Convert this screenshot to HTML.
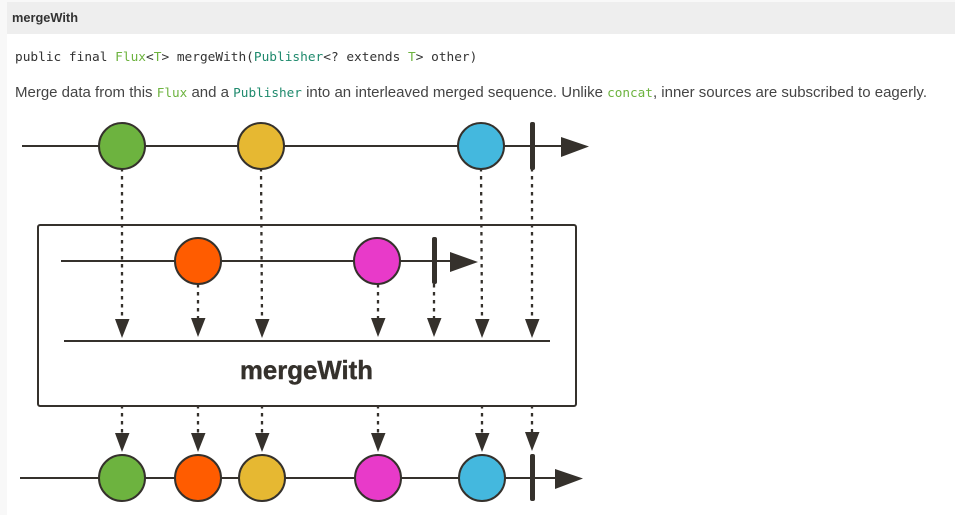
<!DOCTYPE html>
<html><head><meta charset="utf-8"><style>
html,body{margin:0;padding:0;background:#fff;width:955px;height:515px;overflow:hidden}
body{position:relative;font-family:"Liberation Sans",Arial,sans-serif;color:#333}
.side{position:absolute;left:0;top:0;width:7px;height:515px;background:#f8f8f8}
.top{position:absolute;left:0;top:0;width:955px;height:2px;background:#f8f8f8}
.hd{position:absolute;left:7px;top:2px;width:948px;height:32px;background:#eee;font-weight:bold;font-size:12.8px;line-height:32px;text-indent:5px;color:#333}
.sig{position:absolute;left:15px;top:49px;font-family:"DejaVu Sans Mono",monospace;font-size:12.8px;line-height:17px;white-space:pre;color:#333}
.sig b,.p b{font-weight:normal;color:#6db33f}.sig i,.p i{font-style:normal;color:#1f8a6d}
.p{position:absolute;left:15px;top:83px;font-size:15px;line-height:20px;white-space:pre;color:#444}
.p code{font-family:"DejaVu Sans Mono",monospace;font-size:12.7px}
svg{position:absolute;left:0;top:0}
</style></head><body>
<div class="top"></div><div class="side"></div>
<div class="hd">mergeWith</div>
<div class="sig">public final <b>Flux</b>&lt;<b>T</b>&gt; mergeWith(<i>Publisher</i>&lt;? extends <b>T</b>&gt; other)</div>
<div class="p">Merge data from this <code><b>Flux</b></code> and a <code><i>Publisher</i></code> into an interleaved merged sequence. Unlike <code><b>concat</b></code>, inner sources are subscribed to eagerly.</div>
<svg width="955" height="515" viewBox="0 0 955 515">
<g fill="none" stroke="#35312c" stroke-width="2">
<rect x="38" y="225" width="538" height="181" rx="2"/>
<path d="M22 146H565M61 261H455M64 341H550M20 478H560"/>
<g stroke-dasharray="3.500 4.500" stroke-width="2.300">
<path d="M122 168V320M261 168L262 320M481 168L482 320M532 168V320M198 284V318M378 284V318M434 284V318"/>
<path d="M122 405V434M198 405V434M262 405V434M378 405V434M482 405V434M532 405V433"/>
</g></g>
<g stroke="#35312c" stroke-width="2">
<circle cx="122" cy="146" r="23" fill="#6db33f"/>
<circle cx="261" cy="146" r="23" fill="#e6b832"/>
<circle cx="481" cy="146" r="23" fill="#44b8de"/>
<circle cx="198" cy="261" r="23" fill="#ff5c00"/>
<circle cx="377" cy="261" r="23" fill="#e83ac9"/>
<circle cx="122" cy="478" r="23" fill="#6db33f"/>
<circle cx="198" cy="478" r="23" fill="#ff5c00"/>
<circle cx="262" cy="478" r="23" fill="#e6b832"/>
<circle cx="378" cy="478" r="23" fill="#e83ac9"/>
<circle cx="482" cy="478" r="23" fill="#44b8de"/>
</g>
<g fill="#35312c">
<rect x="530" y="122" width="5" height="48" rx="2"/>
<rect x="432" y="237" width="5" height="47" rx="2"/>
<rect x="530" y="454" width="5" height="47" rx="2"/>
<path d="M561 137L589 146.500L561 157Z"/>
<path d="M450 252L478 262L450 272Z"/>
<path d="M555 469L583 478.500L555 489Z"/>
<path d="M115 319H129.500L122 338Z"/>
<path d="M191 318H205.500L198 337Z"/>
<path d="M255 319H269.500L262 338Z"/>
<path d="M371 318H385.500L378 337Z"/>
<path d="M427 318H441.500L434 337Z"/>
<path d="M475 319H489.500L482 338Z"/>
<path d="M525 319H539.500L532 338Z"/>
<path d="M115 433H129.500L122 452Z"/>
<path d="M191 433H205.500L198 452Z"/>
<path d="M255 433H269.500L262 452Z"/>
<path d="M371 433H385.500L378 452Z"/>
<path d="M475 433H489.500L482 452Z"/>
<path d="M525 432H539.500L532 451Z"/>
</g>
<text x="240" y="379" font-family="'Liberation Sans',sans-serif" font-weight="bold" font-size="26" fill="#35312c" stroke="#35312c" stroke-width="0.400" textLength="133" lengthAdjust="spacingAndGlyphs">mergeWith</text>
</svg>
</body></html>
